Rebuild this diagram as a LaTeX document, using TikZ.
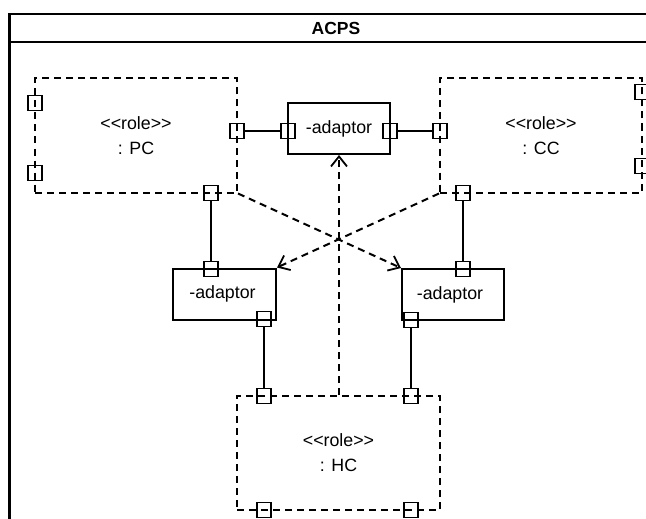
\documentclass[tikz,border=0pt]{standalone}
\usepackage{fontspec}
\setmainfont{Liberation Sans}
\usetikzlibrary{arrows.meta}
\begin{document}
\begin{tikzpicture}[x=1pt,y=-1pt,
  every node/.style={font=\fontsize{17.8}{25}\selectfont},
  rolebox/.style={draw, dash pattern=on 7pt off 5pt, line width=2pt, inner sep=0pt, align=center, minimum height=114pt},
  partbox/.style={draw, line width=2pt, inner sep=0pt, minimum width=102pt, minimum height=51pt},
  port/.style={draw, line width=1.8pt, inner sep=0pt, minimum width=14pt, minimum height=15pt},
  link/.style={line width=2pt},
  dep/.style={line width=2pt, dash pattern=on 7pt off 5pt, -{Straight Barb[length=10pt,width=16pt,line width=1.8pt]}}]
\clip (0,0) rectangle (646,519);
\useasboundingbox (0,0) rectangle (646,519);
% frame
\draw[line width=2.4pt] (9.5,600) -- (9.5,14) -- (700,14);
\draw[line width=2.4pt] (9.5,42) -- (700,42);
\node[font=\fontsize{17.5}{20}\selectfont\bfseries] (title) at (336,28) {ACPS};
% role boxes
\node[rolebox, minimum width=202pt] (pc) at (136,135.5) {<{}<role>{}>\\: PC};
\node[rolebox, minimum width=202pt] (cc) at (541,135.5) {<{}<role>{}>\\: CC};
\node[rolebox, minimum width=203pt] (hc) at (338.5,453) {<{}<role>{}>\\: HC};
% adaptors
\node[partbox] (ta) at (339,128.5) {-adaptor};
\node[partbox, minimum width=103pt] (la) at (224.5,294) {\hspace*{-4pt}-adaptor};
\node[partbox] (ra) at (453,294.5) {\hspace*{-6pt}-adaptor};
% ports
\node[port] (pcL1) at (35,103) {};
\node[port] (pcL2) at (35,173) {};
\node[port] (pcR) at (237,131) {};
\node[port] (pcB) at (211,193) {};
\node[port] (taL) at (288,131) {};
\node[port] (taR) at (390,131) {};
\node[port] (ccL) at (440,131) {};
\node[port] (ccB) at (463,193) {};
\node[port] (ccR1) at (642,92) {};
\node[port] (ccR2) at (642,166) {};
\node[port] (laT) at (211,269) {};
\node[port] (laB) at (264,319) {};
\node[port] (raT) at (463,269) {};
\node[port] (raB) at (411,320) {};
\node[port] (hcT1) at (264,396) {};
\node[port] (hcT2) at (411,396) {};
\node[port] (hcB1) at (264,510) {};
\node[port] (hcB2) at (411,510) {};
% connectors
\draw[link] (pcR) -- (taL);
\draw[link] (taR) -- (ccL);
\draw[link] (pcB) -- (laT);
\draw[link] (ccB) -- (raT);
\draw[link] (laB) -- (hcT1);
\draw[link] (raB) -- (hcT2);
% dependencies
\draw[dep] (pc.south east) -- (ra.north west);
\draw[dep] (cc.south west) -- (la.north east);
\draw[dep] (hc.north -| ta.south) -- (ta.south);
\end{tikzpicture}
\end{document}
